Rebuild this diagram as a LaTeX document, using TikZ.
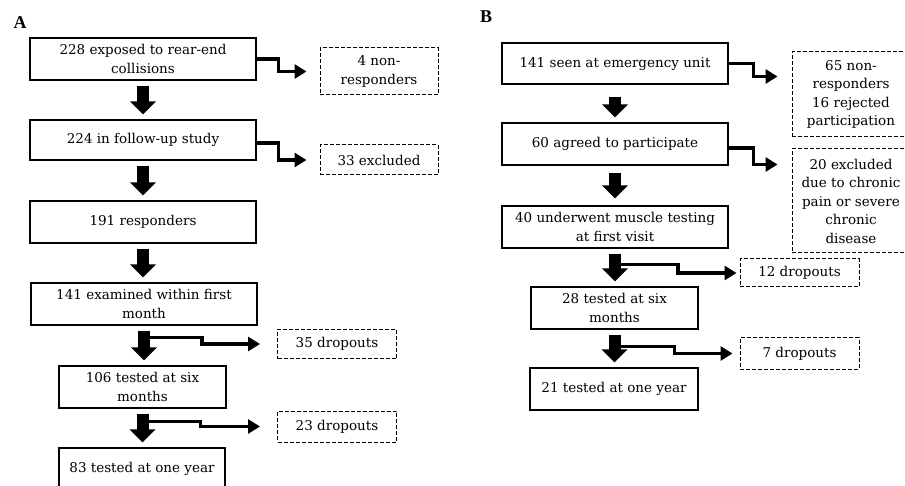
\documentclass[tikz,border=0pt]{standalone}
\usepackage{fontspec}
\setmainfont{DejaVu Serif}
\newfontfamily\panelfont{Liberation Serif}
\usetikzlibrary{calc,arrows.meta}

\begin{document}
\begin{tikzpicture}[x=1pt,y=-1pt,
		box/.style={draw,line width=1.1pt,align=center,inner sep=0pt,font=\fontsize{13.5}{18.5}\selectfont},
		dbox/.style={box,line width=1pt,dash pattern=on 4pt off 2pt},
		bigarrow/.style={line width=12pt,-{Triangle[length=13pt,width=25pt]},shorten <=5pt,shorten >=5pt},
		elbow/.style={line width=3.3pt,-{Triangle[length=12pt,width=14pt]}},
		lbl/.style={font=\panelfont\fontsize{18}{20}\selectfont\bfseries}]
		\useasboundingbox (0,0) rectangle (905,486);
		\clip (0,0) rectangle (905,486);
		
		\node[lbl] (lblA) at (20,23) {A};
		\node[box,minimum width=226pt,minimum height=42pt] (a1) at (143,59) {228 exposed to rear-end\\collisions};
		\node[box,minimum width=226pt,minimum height=40pt] (a2) at (143,140) {224 in follow-up study};
		\node[box,minimum width=226pt,minimum height=42pt] (a3) at (143,222) {191 responders};
		\node[box,minimum width=226pt,minimum height=42pt] (a4) at (144,304) {141 examined within first\\month};
		\node[box,minimum width=167pt,minimum height=42pt] (a5) at (142.5,387) {106 tested at six\\months};
		\node[box,minimum width=166pt,minimum height=42pt] (a6) at (142,469) {83 tested at one year};
		\node[dbox,minimum width=118pt,minimum height=47pt] (n1) at (379,71.5) {4 non-\\responders};
		\node[dbox,minimum width=118pt,minimum height=30pt] (n2) at (379,160) {33 excluded};
		\node[dbox,minimum width=119pt,minimum height=29pt] (n3) at (337,344) {35 dropouts};
		\node[dbox,minimum width=119pt,minimum height=31pt] (n4) at (337,426.5) {23 dropouts};
		
		\draw[bigarrow] (a1.south) -- (a2.north);
		\draw[bigarrow] (a2.south) -- (a3.north);
		\draw[bigarrow] (a3.south) -- (a3.south |- a4.north);
		\draw[bigarrow] (a4.south) -- (a4.south |- a5.north);
		\draw[bigarrow] (a5.south) -- (a5.south |- a6.north);
		\draw[elbow,shorten >=13pt] (a1.east) -- ++(22,0) |- (n1.west);
		\draw[elbow,shorten >=13pt] ($(a2.east)+(0,3)$) -- ++(22,0) |- (n2.west);
		\draw[elbow,shorten >=17pt] ($(a4.south)+(0,12)$) -- ++(58,0) |- (n3.west);
		\draw[elbow,shorten >=17pt] ($(a5.south)+(0,13)$) -- ++(58,0) |- (n4.west);
		
		\node[lbl] (lblB) at (486,17) {B};
		\node[box,minimum width=226pt,minimum height=41pt] (b1) at (615,63.5) {141 seen at emergency unit};
		\node[box,minimum width=226pt,minimum height=42pt] (b2) at (615,144) {60 agreed to participate};
		\node[box,minimum width=226pt,minimum height=42pt] (b3) at (615,227) {40 underwent muscle testing\\at first visit};
		\node[box,minimum width=167pt,minimum height=42pt] (b4) at (614.5,308) {28 tested at six\\months};
		\node[box,minimum width=168pt,minimum height=42pt] (b5) at (614,389) {21 tested at one year};
		\node[dbox,minimum width=118pt,minimum height=85pt] (m1) at (851,94.5) {65 non-\\responders\\16 rejected\\participation};
		\node[dbox,minimum width=118pt,minimum height=104pt] (m2) at (851,201) {20 excluded\\due to chronic\\pain or severe\\chronic\\disease};
		\node[dbox,minimum width=119pt,minimum height=28pt] (m3) at (799.5,273) {12 dropouts};
		\node[dbox,minimum width=119pt,minimum height=31pt] (m4) at (799.5,353.5) {7 dropouts};
		\coordinate (t1) at ($(m1.north west)+(-14,25)$);
		\coordinate (t2) at ($(m2.north west)+(-14,16)$);
		
		\draw[bigarrow,shorten <=12pt] (b1.south) -- (b2.north);
		\draw[bigarrow,shorten <=7pt,shorten >=7pt] (b2.south) -- (b3.north);
		\draw[bigarrow] (b3.south) -- (b3.south |- b4.north);
		\draw[bigarrow] (b4.south) -- (b4.south |- b5.north);
		\draw[elbow] (b1.east) -- ++(25,0) |- (t1);
		\draw[elbow] ($(b2.east)+(0,4)$) -- ++(25,0) |- (t2);
		\draw[elbow,shorten >=3pt] ($(b3.south)+(0,16)$) -- ++(63,0) |- (m3.west);
		\draw[elbow,shorten >=7pt] ($(b4.south)+(0,17)$) -- ++(60,0) |- (m4.west);
	\end{tikzpicture}
\end{document}
